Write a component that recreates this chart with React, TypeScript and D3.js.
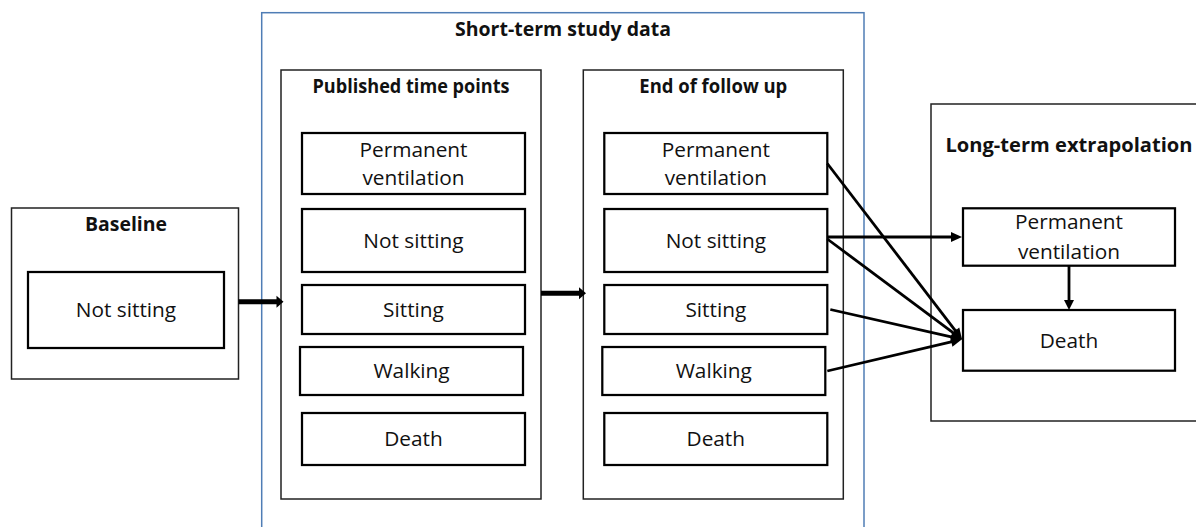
import * as d3 from "d3";

// diagram content
const mainTitle = "Short-term study data";
const stageTitles = ["Published time points", "End of follow up"];
const baselineTitle = "Baseline";
const longTitle = "Long-term extrapolation";
const shortStates = ["Permanent ventilation", "Not sitting", "Sitting", "Walking", "Death"];
const baselineStates = ["Not sitting"];
const longStates = ["Permanent ventilation", "Death"];
// transitions from end of follow up into the long-term states
const edgeFrom = ["Permanent ventilation", "Not sitting", "Not sitting", "Sitting", "Walking"];
const edgeTo = ["Death", "Permanent ventilation", "Death", "Death", "Death"];

const W = 1196;
const H = 527;
const FONT = "'Open Sans', 'Noto Sans', sans-serif";

// layout (pixel geometry only)
const rowTop = d3.scaleOrdinal<string, number>().domain(shortStates).range([133, 209, 285, 347, 413]);
const rowBot = d3.scaleOrdinal<string, number>().domain(shortStates).range([194, 272, 334, 395, 465]);
const rowDx = d3.scaleOrdinal<string, number>().domain(shortStates).range([0, 0, 0, -2, 0]);
const stageX = d3.scaleOrdinal<string, number>().domain(stageTitles).range([281, 583.3]);
const stageW = 260;
const innerPad = 21;
const innerW = 223;
const longTop = d3.scaleOrdinal<string, number>().domain(longStates).range([208.3, 310]);
const longBot = d3.scaleOrdinal<string, number>().domain(longStates).range([265.7, 370.7]);
const longX0 = 963;
const longX1 = 1175;
// rendered widths of the bold headings
const titleLen = d3
  .scaleOrdinal<string, number>()
  .domain([mainTitle, ...stageTitles, baselineTitle, longTitle])
  .range([216, 197, 148, 82, 247]);

const lines = (s: string) => (s === "Permanent ventilation" ? ["Permanent", "ventilation"] : [s]);

function Title({ x, y, text }) {
  return (
    <text
      x={x}
      y={y}
      textAnchor="middle"
      fontFamily={FONT}
      fontWeight={700}
      fontSize={19}
      fill="#111"
      textLength={titleLen(text)}
      lengthAdjust="spacingAndGlyphs"
    >
      {text}
    </text>
  );
}

function Label({ cx, cy, text, gap = 28.5 }) {
  const ls = lines(text);
  return (
    <text textAnchor="middle" fontFamily={FONT} fontSize={20.8} fill="#111">
      {ls.map((l, i) => (
        <tspan key={i} x={cx} y={cy + 7.3 + (i - (ls.length - 1) / 2) * gap}>
          {l}
        </tspan>
      ))}
    </text>
  );
}

function Arrow({ x1, y1, x2, y2, sw, hl, hw }) {
  const a = Math.atan2(y2 - y1, x2 - x1);
  const bx = x2 - hl * Math.cos(a);
  const by = y2 - hl * Math.sin(a);
  const px = -Math.sin(a) * hw / 2;
  const py = Math.cos(a) * hw / 2;
  const head = d3.path();
  head.moveTo(x2, y2);
  head.lineTo(bx + px, by + py);
  head.lineTo(bx - px, by - py);
  head.closePath();
  return (
    <g>
      <line x1={x1} y1={y1} x2={bx + Math.cos(a)} y2={by + Math.sin(a)} stroke="#000" strokeWidth={sw} />
      <path d={head.toString()} fill="#000" />
    </g>
  );
}

export default function App() {
  const endX = stageX("End of follow up") + innerPad + innerW;
  const srcY = (from: string, to: string) => {
    if (to === "Permanent ventilation") return (longTop(to) + longBot(to)) / 2;
    if (from === "Not sitting") return 239;
    return (rowTop(from) + rowBot(from)) / 2;
  };
  const deathY = (longTop("Death") + longBot("Death")) / 2 - 1;
  return (
    <svg width={W} height={H} style={{ position: "absolute", left: 0, top: 0, background: "#fff" }}>
      <rect width={W} height={H} fill="#fff" />
      {/* short-term container */}
      <rect x={261.7} y={12.7} width={602.3} height={540} fill="none" stroke="#4f7db5" strokeWidth={1.5} />
      <Title x={563} y={36} text={mainTitle} />

      {/* baseline */}
      <rect x={11.5} y={208} width={227} height={171} fill="#fff" stroke="#222" strokeWidth={1.5} />
      <Title x={126} y={230.5} text={baselineTitle} />
      {baselineStates.map((s) => (
        <g key={s}>
          <rect x={28} y={272} width={196} height={76} fill="none" stroke="#000" strokeWidth={2.25} />
          <Label cx={126} cy={310} text={s} />
        </g>
      ))}

      {/* short-term stages */}
      {stageTitles.map((t) => {
        const x = stageX(t);
        return (
          <g key={t}>
            <rect x={x} y={70} width={stageW} height={429} fill="none" stroke="#222" strokeWidth={1.5} />
            <Title x={x + stageW / 2} y={92.5} text={t} />
            {shortStates.map((s) => {
              const bx = x + innerPad + rowDx(s);
              return (
                <g key={s}>
                  <rect x={bx} y={rowTop(s)} width={innerW} height={rowBot(s) - rowTop(s)} fill="none" stroke="#000" strokeWidth={2.25} />
                  <Label cx={bx + innerW / 2} cy={(rowTop(s) + rowBot(s)) / 2} text={s} />
                </g>
              );
            })}
          </g>
        );
      })}

      {/* long-term */}
      <rect x={931} y={104} width={300} height={317} fill="none" stroke="#222" strokeWidth={1.5} />
      <Title x={(longX0 + longX1) / 2} y={152} text={longTitle} />
      {longStates.map((s) => (
        <g key={s}>
          <rect x={longX0} y={longTop(s)} width={longX1 - longX0} height={longBot(s) - longTop(s)} fill="#fff" stroke="#000" strokeWidth={2.25} />
          <Label cx={(longX0 + longX1) / 2} cy={(longTop(s) + longBot(s)) / 2} text={s} gap={30} />
        </g>
      ))}

      {/* thick stage arrows */}
      <Arrow x1={238.5} y1={301.7} x2={283.5} y2={301.7} sw={5} hl={7} hw={12} />
      <Arrow x1={541} y1={293.3} x2={586} y2={293.3} sw={5} hl={7} hw={12} />

      {/* transitions */}
      {edgeFrom.map((f, i) => {
        const t = edgeTo[i];
        const y1 = srcY(f, t);
        const x1 = f === "Sitting" ? endX + 3 : endX;
        const y2 = t === "Death" ? deathY : y1;
        return <Arrow key={i} x1={x1} y1={y1} x2={longX0 - 1} y2={y2} sw={2.8} hl={11} hw={10} />;
      })}
      <Arrow
        x1={(longX0 + longX1) / 2}
        y1={longBot("Permanent ventilation")}
        x2={(longX0 + longX1) / 2}
        y2={longTop("Death")}
        sw={2.8}
        hl={10}
        hw={10}
      />
    </svg>
  );
}
